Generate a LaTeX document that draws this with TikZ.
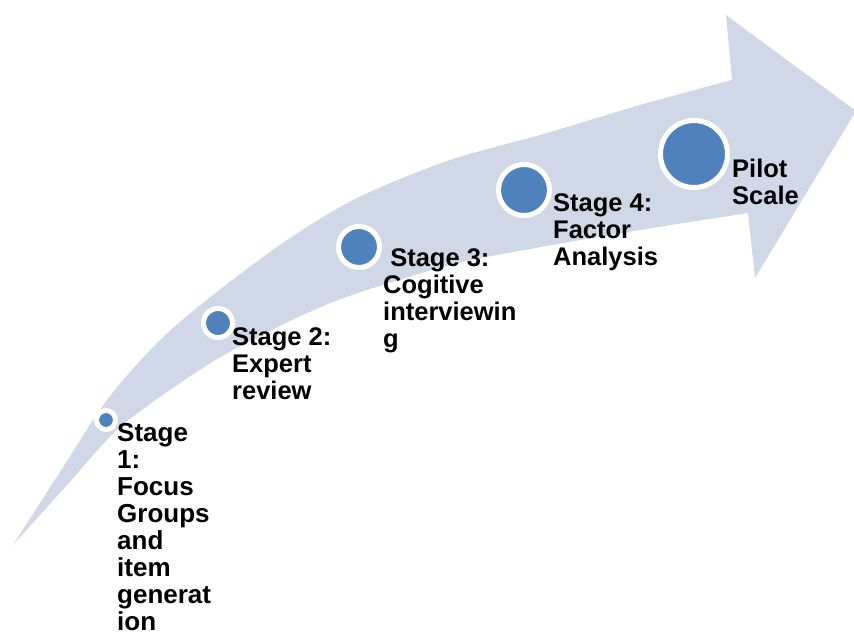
\documentclass[tikz,border=0pt]{standalone}
\usepackage{fontspec}
\newfontfamily\stagefont{Liberation Sans}

\definecolor{bandblue}{HTML}{D0D8E8}
\definecolor{dotblue}{HTML}{4F81BD}

\begin{document}
\begin{tikzpicture}[x=1pt,y=-1pt]

      \useasboundingbox (0,0) rectangle (854,637);

      % curved arrow body and head
      \fill[bandblue]
        plot[smooth] coordinates {(13,545) (60,472) (107,400) (160,340) (218,291) (290,238)
                                  (359,197) (450,160) (547,133) (640,105) (732,80)}
        -- (726,15) -- (856,111) -- (755,278) -- (748,213)
        -- plot[smooth] coordinates {(748,213) (640,230) (530,249) (450,265) (333,302)
                                     (233,350) (170,390) (117,430) (67,485) (13,545)}
        -- cycle;

      \begin{scope}[every node/.style={circle,fill=dotblue,draw=white,line width=5pt,inner sep=0pt}]
        \node[minimum size=19pt] (1) at (106,420) {};
        \node[minimum size=29pt] (2) at (218,323) {};
        \node[minimum size=41pt] (3) at (359,247) {};
        \node[minimum size=51pt] (4) at (524,190) {};
        \node[minimum size=67pt] (5) at (694,154) {};
      \end{scope}

      % labels sit on the baseline of their last line
      \begin{scope}[every node/.style={anchor=base west,align=left,inner sep=0pt,
                    font=\stagefont\bfseries\fontsize{25.5}{27}\selectfont}]
        \node[font=\stagefont\bfseries\fontsize{26}{27}\selectfont] (t1) at (117,630)
          {Stage\\1:\\Focus\\Groups\\and\\item\\generat\\ion};
        \node (t2) at (232,399) {Stage 2:\\Expert\\review};
        \node (t3) at (383,347) {\ Stage 3:\\Cogitive\\interviewin\\g};
        \node (t4) at (553,265) {Stage 4:\\Factor\\Analysis};
        \node (t5) at (732,204) {Pilot\\Scale};
      \end{scope}

    \end{tikzpicture}
\end{document}
